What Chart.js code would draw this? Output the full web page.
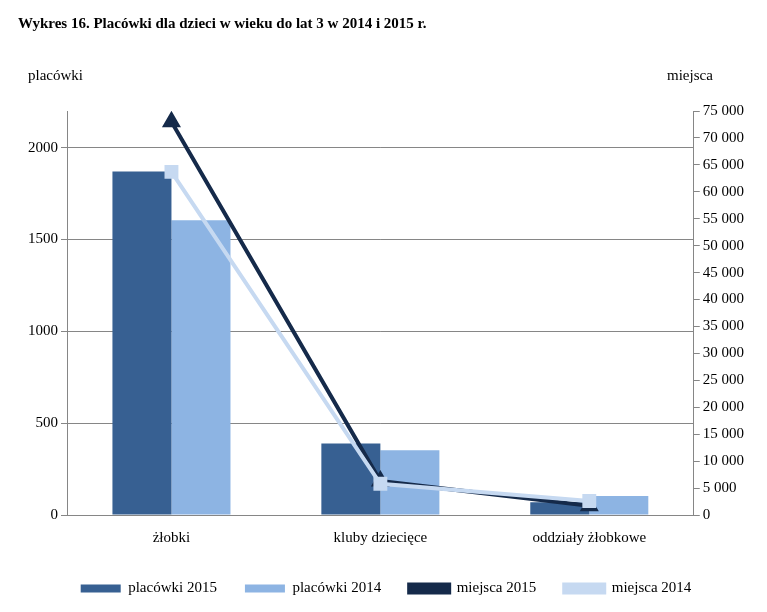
<!DOCTYPE html>
<html><head><meta charset="utf-8">
<script src="https://cdn.jsdelivr.net/npm/chart.js@4"></script>
<style>body{margin:0;background:#fff}#w{position:relative;width:767px;height:612px}</style>
</head><body><div id="w"><canvas id="c" width="767" height="612"></canvas></div>
<script>
const categories = ['żłobki', 'kluby dziecięce', 'oddziały żłobkowe'];
const placowki2015 = [1870, 390, 70];
const placowki2014 = [1605, 352, 104];
const miejsca2015 = [73000, 6300, 1700];
const miejsca2014 = [63700, 5800, 2600];
const leftTicks = [0, 500, 1000, 1500, 2000];

const F = 'Liberation Serif';
const textPlugin = {
  id: 'texts',
  afterDraw(chart) {
    const ctx = chart.ctx;
    ctx.save();
    ctx.fillStyle = '#000';
    ctx.font = 'bold 15px "' + F + '"';
    ctx.textBaseline = 'alphabetic';
    ctx.textAlign = 'left';
    ctx.fillText('Wykres 16. Placówki dla dzieci w wieku do lat 3 w 2014 i 2015 r.', 18, 28);
    ctx.font = '15px "' + F + '"';
    ctx.fillText('placówki', 28, 80);
    ctx.fillText('miejsca', 667, 80);
    ctx.restore();
  }
};

new Chart(document.getElementById('c'), {
  data: {
    labels: categories,
    datasets: [
      {type:'line', label:'miejsca 2015', data:miejsca2015, yAxisID:'y1', borderColor:'#152a4a', backgroundColor:'#152a4a', borderWidth:4, pointStyle:'triangle', pointRadius:7, pointBackgroundColor:'#152a4a', tension:0, order:1},
      {type:'line', label:'miejsca 2014', data:miejsca2014, yAxisID:'y1', borderColor:'#c6d9f1', backgroundColor:'#c6d9f1', borderWidth:4, pointStyle:'rect', pointRadius:7, pointBackgroundColor:'#c6d9f1', tension:0, order:0},
      {type:'bar', label:'placówki 2015', data:placowki2015, yAxisID:'y', backgroundColor:'#376092', categoryPercentage:0.565, barPercentage:1, order:2},
      {type:'bar', label:'placówki 2014', data:placowki2014, yAxisID:'y', backgroundColor:'#8db4e3', categoryPercentage:0.565, barPercentage:1, order:3}
    ]
  },
  options: {
    responsive:false, animation:false,
    layout:{padding:{top:111, left:25, right:20, bottom:6}},
    plugins:{
      legend:{position:'bottom', labels:{
        font:{family:F, size:15}, color:'#000', boxWidth:40, boxHeight:8, padding:28,
        sort:(a,b)=>[2,3,0,1].indexOf(a.datasetIndex)-[2,3,0,1].indexOf(b.datasetIndex)
      }},
      tooltip:{enabled:false}
    },
    scales:{
      x:{grid:{display:false}, border:{color:'#868686'}, ticks:{font:{family:F,size:15}, color:'#000', padding:6}},
      y:{position:'left', min:0, max:2200,
        afterBuildTicks:s=>{s.ticks=leftTicks.map(v=>({value:v}));},
        grid:{color:'#868686', drawTicks:true, tickLength:6}, border:{color:'#868686'},
        ticks:{font:{family:F,size:15}, color:'#000', callback:v=>String(v)}},
      y1:{position:'right', min:0, max:75000,
        ticks:{stepSize:5000, font:{family:F,size:15}, color:'#000',
          callback:v=>v===0?'0':v.toLocaleString('en-US').replace(',', ' ')},
        grid:{drawOnChartArea:false, color:'#868686', tickLength:6}, border:{color:'#868686'}}
    }
  },
  plugins:[textPlugin]
});
</script></div></body></html>
